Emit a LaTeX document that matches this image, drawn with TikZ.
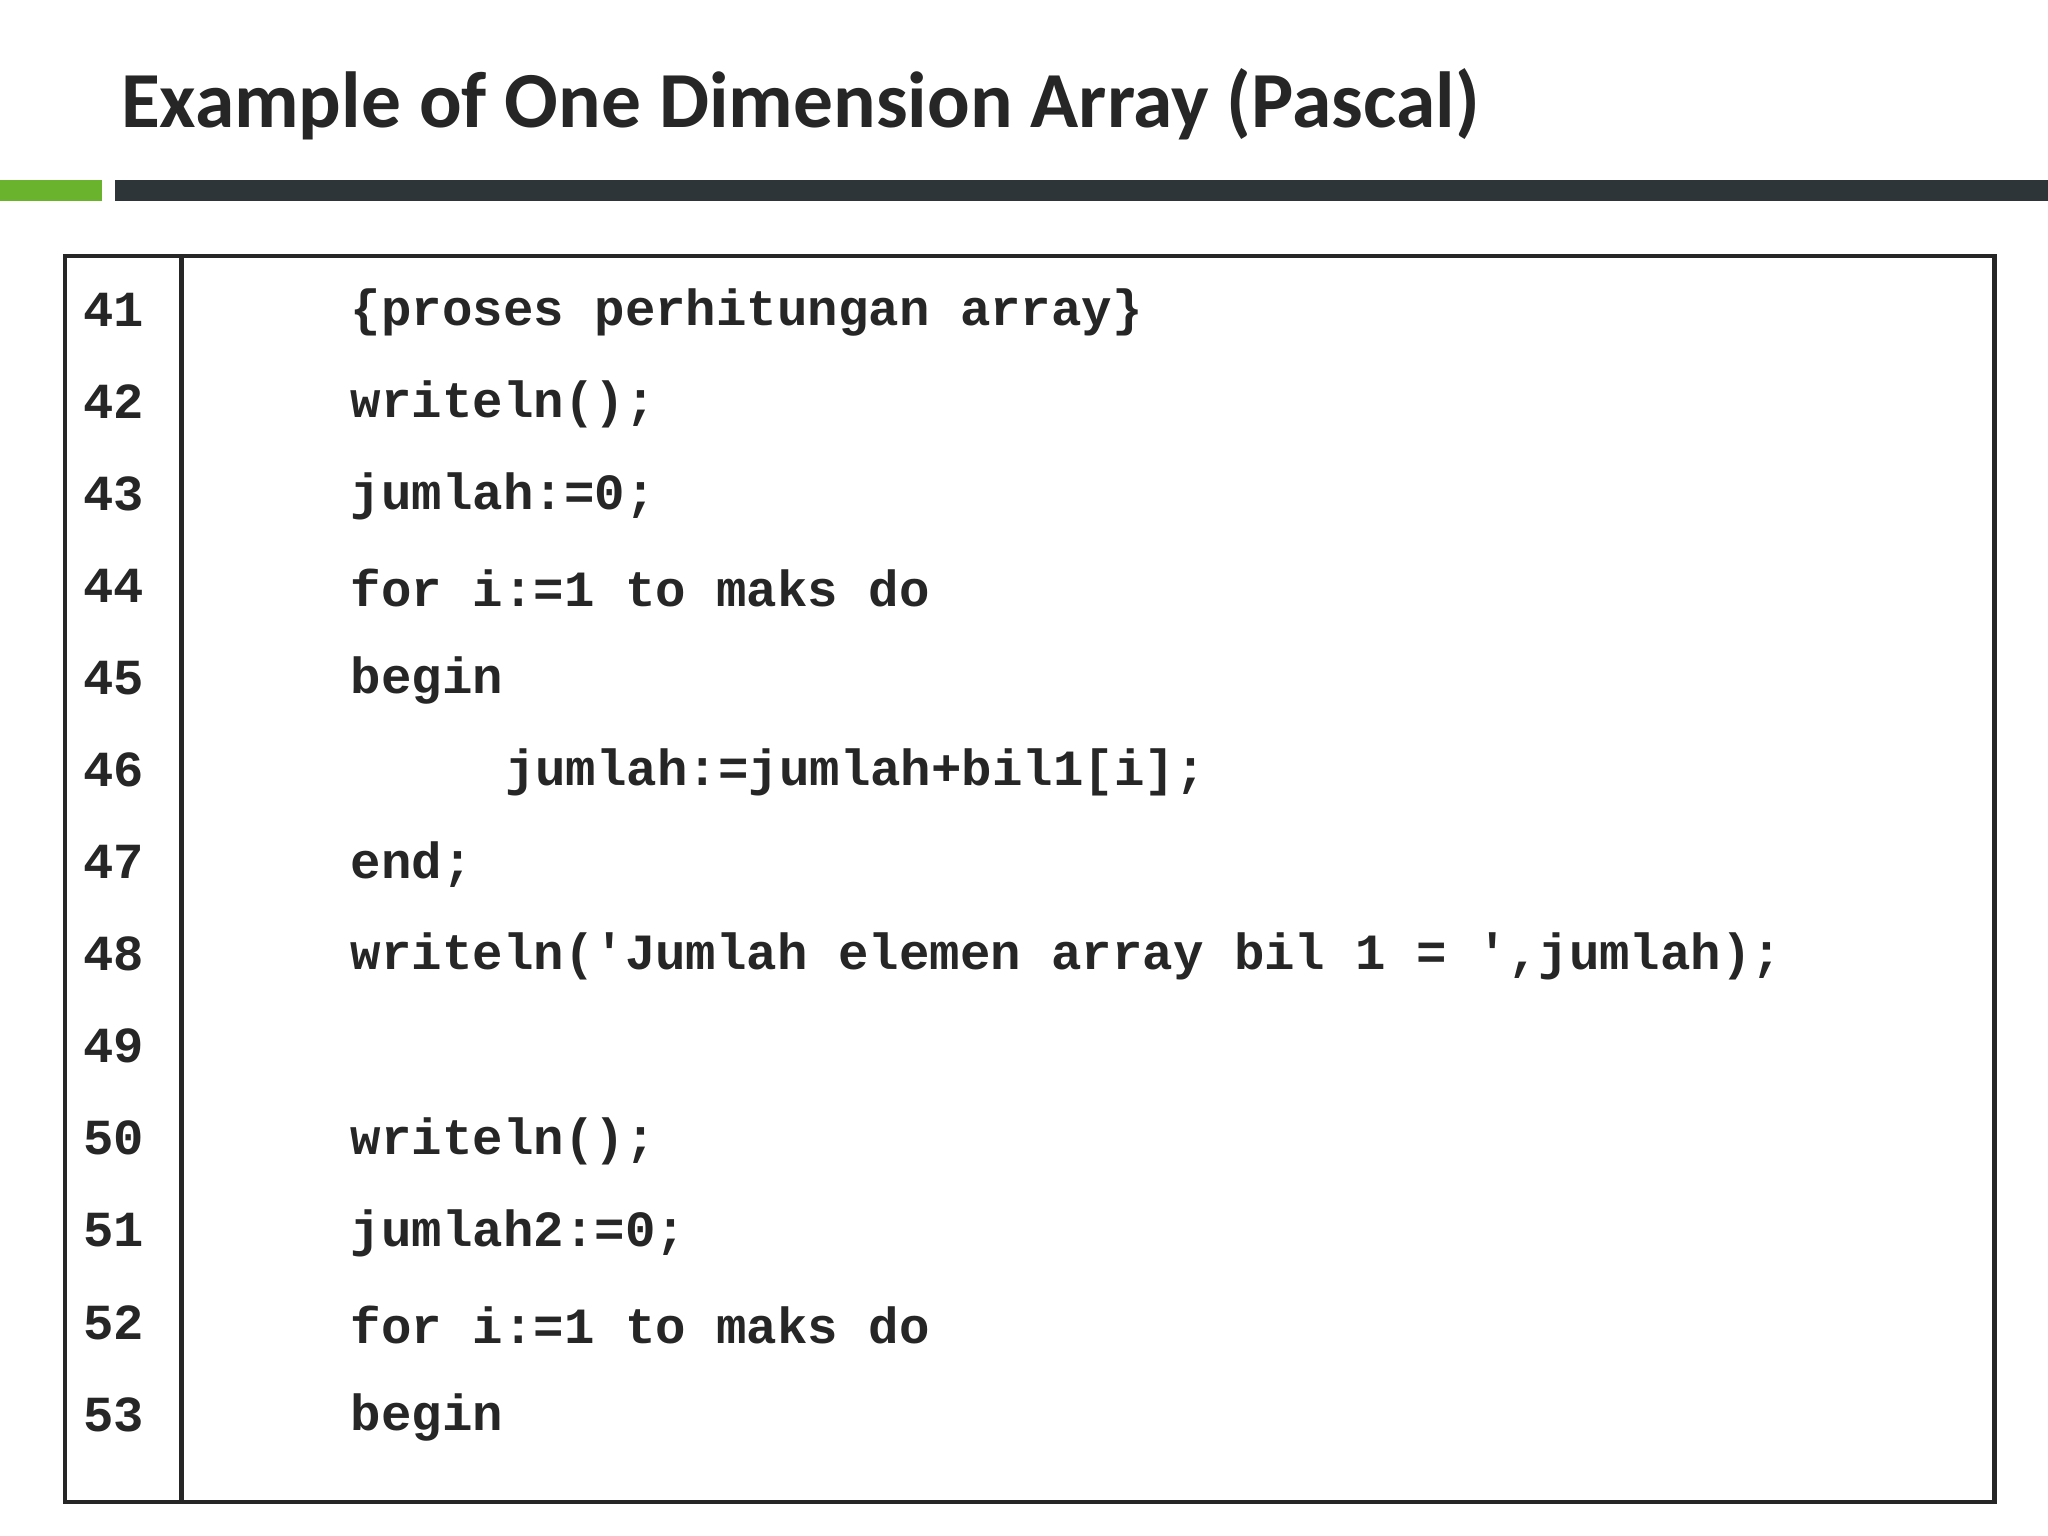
\documentclass[tikz,border=0pt]{standalone}
\usepackage{fontspec}
\setsansfont{Carlito}
\setmonofont{Liberation Mono}
\usetikzlibrary{positioning}
\definecolor{titlegray}{HTML}{262626}
\definecolor{bargreen}{HTML}{6AB42D}
\definecolor{bardark}{HTML}{2E3538}
\tikzset{
  lineno/.style={anchor=west,font=\ttfamily\bfseries\fontsize{11pt}{12pt}\selectfont,inner sep=0pt,text=black!85},
  codeline/.style={anchor=west,font=\ttfamily\bfseries\fontsize{11.05pt}{12pt}\selectfont,inner sep=0pt,text=black!85}
}
\begin{document}
\begin{tikzpicture}[x=0.01cm,y=-0.01cm]
\useasboundingbox (0,0) rectangle (1568,1176);
\node (title) [anchor=west,inner sep=0pt,text=titlegray,font=\sffamily\bfseries\fontsize{17.3pt}{20pt}\selectfont] at (92,80) {Example of One Dimension Array (Pascal)};
\fill[bargreen] (0,138) rectangle (78,154);
\fill[bardark] (88,138) rectangle (1568,154);
\draw[line width=0.9pt,black!85] (50,196) rectangle (1527,1150);
\draw[line width=0.9pt,black!85] (139,196) -- (139,1150);
\foreach \n [count=\i from 0] in {41,...,53}
  \node (n\n) [lineno] at (63,{237+70.5*\i}) {\n};
\node (c41) [codeline] at (268,239) {\{proses perhitungan array\}};
\node (c42) [codeline] at (268,309.5) {writeln();};
\node (c43) [codeline] at (268,380) {jumlah:=0;};
\node (c44) [codeline] at (268,450.5) {for i:=1 to maks do};
\node (c45) [codeline] at (268,521) {begin};
\node (c46) [codeline] at (386,591.5) {jumlah:=jumlah+bil1[i];};
\node (c47) [codeline] at (268,662) {end;};
\node (c48) [codeline] at (268,732.5) {writeln('Jumlah elemen array bil 1 = ',jumlah);};
\node (c50) [codeline] at (268,873.5) {writeln();};
\node (c51) [codeline] at (268,944) {jumlah2:=0;};
\node (c52) [codeline] at (268,1014.5) {for i:=1 to maks do};
\node (c53) [codeline] at (268,1085) {begin};
\end{tikzpicture}
\end{document}
